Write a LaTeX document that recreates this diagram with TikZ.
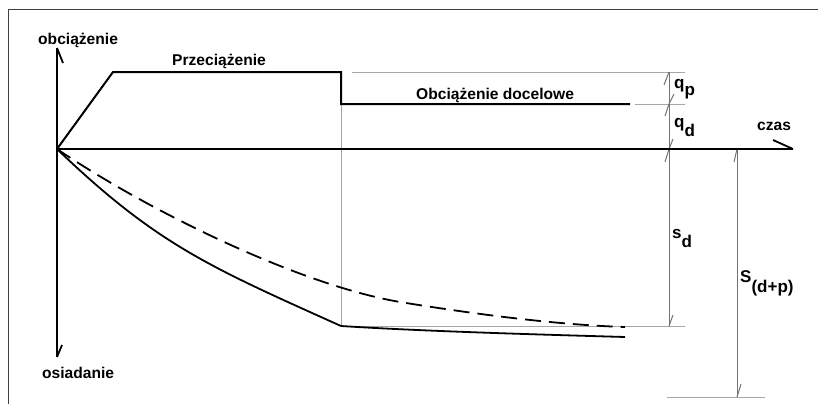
\documentclass[tikz,border=0pt]{standalone}
\usepackage{fontspec}
\setmainfont{Liberation Sans}
\begin{document}
\begin{tikzpicture}[x=1pt,y=-1pt,
  lbl/.style={inner sep=0pt,anchor=base west,font=\bfseries\fontsize{15.6}{18}\selectfont},
  sym/.style={inner sep=0pt,anchor=base west,font=\bfseries\fontsize{17}{20}\selectfont},
  axis/.style={line width=2pt,black},
  load/.style={line width=2pt,black,line join=miter},
  curve/.style={line width=1.8pt,black},
  ext/.style={line width=1pt,black!35},
  dim/.style={line width=1pt,black!55},
  frame/.style={line width=1pt,black!75}]
\useasboundingbox (0,0) rectangle (818,404);
% frame
\coordinate (fa) at (8,404);
\coordinate (fb) at (8,10);
\coordinate (fc) at (818,10);
\draw[frame] (fa) -- (fb) -- (fc);
% key points
\coordinate (O) at (57,149);
\coordinate (ytop) at (57,48);
\coordinate (ybot) at (57,357);
\coordinate (xend) at (793,149);
\coordinate (l1) at (113,72);
\coordinate (l2) at (341,72);
\coordinate (l3) at (341,104);
\coordinate (l4) at (630,104);
\coordinate (cs) at (341,326);
\coordinate (ce) at (625,337);
\coordinate (de) at (625,327);
% extension lines
\draw[ext] (352,72) coordinate (e1a) -- (685,72) coordinate (e1b);
\draw[ext] (635,104) coordinate (e2a) -- (685,104) coordinate (e2b);
\draw[ext] (cs) -- (685,326) coordinate (e3b);
\draw[ext] (667,397) coordinate (e4a) -- (765,397) coordinate (e4b);
\draw[ext] (l3) -- (cs);
% dimension lines
\coordinate (d1t) at (669,72);
\coordinate (d1m) at (669,104);
\coordinate (d1o) at (669,149);
\coordinate (d1b) at (669,326);
\coordinate (d2t) at (737,149);
\coordinate (d2b) at (737,397);
\draw[dim] (d1t) -- (d1b);
\draw[dim] (d2t) -- (d2b);
\draw[dim] (d1t) -- ++(-5,13);
\draw[dim] (d1m) -- ++(5,-10);
\draw[dim] (d1m) -- ++(-4,12);
\draw[dim] (d1o) -- ++(4,-10);
\draw[dim] (d1o) -- ++(-4,13);
\draw[dim] (d1b) -- ++(4,-11);
\draw[dim] (d2t) -- ++(-3,13);
\draw[dim] (d2b) -- ++(4,-13);
% axes
\draw[axis] (ytop) -- (ybot);
\draw[axis] (O) -- (xend);
\draw[line width=1.8pt] (ytop) -- ++(6,15);
\draw[line width=1.8pt] (ybot) -- ++(5,-12);
\draw[line width=1.8pt] (xend) -- ++(-20,-9);
% load
\draw[load] (O) -- (l1) -- (l2) -- (l3) -- (l4);
% settlement curves
\draw[curve] (O) .. controls (157,245) and (211,267.5) .. (cs);
\draw[curve] (cs) .. controls (420,331) and (520,334) .. (ce);
\draw[curve,dash pattern=on 16pt off 8pt] (O) .. controls (150,212) and (300,285) .. (400,302) .. controls (480,315) and (560,325) .. (de);
% labels
\node[lbl] (t1) at (38,45) {obciążenie};
\node[lbl] (t2) at (172,65) {Przeciążenie};
\node[lbl] (t3) at (416,99) {Obciążenie docelowe};
\node[lbl] (t4) at (757,130) {czas};
\node[lbl] (t5) at (42,378) {osiadanie};
\node[sym] (qp) at (674,88) {q\raisebox{-7pt}{p}};
\node[sym] (qd) at (674,127) {q\raisebox{-9pt}{d}};
\node[sym] (sd) at (672,238) {s\raisebox{-9pt}{d}};
\node[sym] (sdp) at (740,282) {S\raisebox{-10pt}{(d+p)}};
\end{tikzpicture}
\end{document}
